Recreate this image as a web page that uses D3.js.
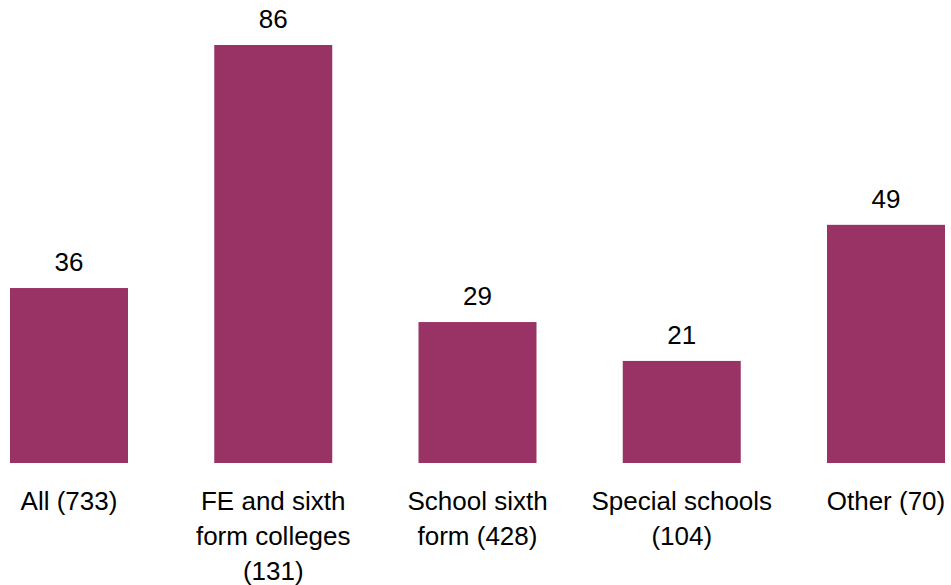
<!DOCTYPE html>
<html>
<head>
<meta charset="utf-8">
<script src="https://cdn.jsdelivr.net/npm/d3@7"></script>
<style>
  html, body { margin: 0; padding: 0; background: #fff; }
  svg { display: block; }
  text { font-family: "Liberation Sans", Arial, sans-serif; fill: #000; }
</style>
</head>
<body>
<svg id="chart" width="951" height="585"></svg>
<script>
const categories = [
  ["All (733)"],
  ["FE and sixth", "form colleges", "(131)"],
  ["School sixth", "form (428)"],
  ["Special schools", "(104)"],
  ["Other (70)"]
];
const values = [36, 86, 29, 21, 49];

const svg = d3.select("#chart");
const x = d3.scaleBand()
  .domain(d3.range(values.length))
  .range([10, 945])
  .paddingInner(0.4223)
  .paddingOuter(0);
const y = d3.scaleLinear().domain([0, 86]).range([463, 45]);

svg.selectAll("rect.bar")
  .data(values)
  .join("rect")
  .attr("class", "bar")
  .attr("x", (d, i) => x(i))
  .attr("y", d => y(d))
  .attr("width", x.bandwidth())
  .attr("height", d => y(0) - y(d))
  .attr("fill", "#993366");

svg.selectAll("text.val")
  .data(values)
  .join("text")
  .attr("class", "val")
  .attr("x", (d, i) => x(i) + x.bandwidth() / 2)
  .attr("y", d => y(d) - 17)
  .attr("text-anchor", "middle")
  .style("font-size", "26px")
  .text(d => d);

const cat = svg.selectAll("text.cat")
  .data(categories)
  .join("text")
  .attr("class", "cat")
  .attr("text-anchor", "middle")
  .style("font-size", "26px");
cat.each(function(lines, i) {
  d3.select(this).selectAll("tspan")
    .data(lines)
    .join("tspan")
    .attr("x", x(i) + x.bandwidth() / 2)
    .attr("y", (l, j) => 510 + j * 35)
    .text(l => l);
});
</script>
</body>
</html>
